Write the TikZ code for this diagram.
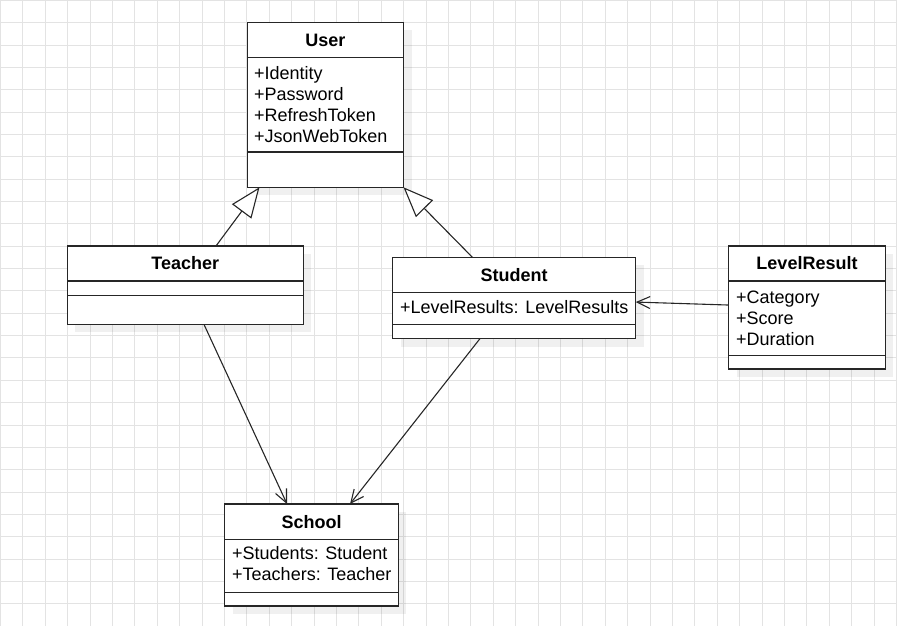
\documentclass[tikz,border=0pt]{standalone}
\usepackage{fontspec}
\setmainfont{Liberation Sans}
\usetikzlibrary{arrows.meta,calc}
\begin{document}
\begin{tikzpicture}[x=1pt,y=-1pt,
  gridline/.style={draw=black!11,line width=0.9pt},
  classbox/.style={draw=black!85, line width=1.3pt, fill=white, inner sep=0, outer sep=0, anchor=north west},
  shadowbox/.style={fill=black, fill opacity=0.06, draw=none},
  divider/.style={draw=black!85, line width=1.3pt},
  title/.style={font=\fontsize{18}{21}\selectfont\bfseries, anchor=base, inner sep=0},
  attr/.style={font=\fontsize{18}{21}\selectfont, anchor=base west, inner sep=0},
  gen/.style={draw=black!85, line width=1.1pt, -{Triangle[open,length=30pt,width=24pt,fill=white]}},
  assoc/.style={draw=black!85, line width=1.1pt, -{Straight Barb[length=13pt,width=12pt]}}]
\useasboundingbox (0,0) rectangle (897,626);
% grid
\foreach \i in {0,...,40} \draw[gridline] ({0.5+22.4*\i},0) -- ({0.5+22.4*\i},626);
\foreach \j in {0,...,28} \draw[gridline] (0,{0.3+22.35*\j}) -- (897,{0.3+22.35*\j});
% shadows
\fill[shadowbox] (255.3,30.3) rectangle ++(156.2,165);
\fill[shadowbox] (75.3,254) rectangle ++(236,78.3);
\fill[shadowbox] (400.7,265.3) rectangle ++(243,81.4);
\fill[shadowbox] (736.7,254) rectangle ++(156.6,123);
\fill[shadowbox] (232.7,512) rectangle ++(173.6,102);
% User
\node[classbox, minimum width=156.2pt, minimum height=165pt] (user) at (247.3,22.3) {};
\draw[divider] ($(user.north west)+(0,35.4)$) -- ($(user.north east)+(0,35.4)$);
\draw[divider] ($(user.north west)+(0,129.7)$) -- ($(user.north east)+(0,129.7)$);
\node[title] (usert) at (325.4,46.3) {User};
\node[attr] (usera1) at (254,79.3) {+Identity};
\node[attr] (usera2) at (254,100.3) {+Password};
\node[attr] (usera3) at (254,121.3) {+RefreshToken};
\node[attr] (usera4) at (254,142.3) {+JsonWebToken};
% Teacher
\node[classbox, minimum width=236pt, minimum height=78.3pt] (teacher) at (67.3,246) {};
\draw[divider] ($(teacher.north west)+(0,35)$) -- ($(teacher.north east)+(0,35)$);
\draw[divider] ($(teacher.north west)+(0,49.3)$) -- ($(teacher.north east)+(0,49.3)$);
\node[title] (teachert) at (185.3,269.8) {Teacher};
% Student
\node[classbox, minimum width=243pt, minimum height=81.4pt] (student) at (392.7,257.3) {};
\draw[divider] ($(student.north west)+(0,35.4)$) -- ($(student.north east)+(0,35.4)$);
\draw[divider] ($(student.north west)+(0,67)$) -- ($(student.north east)+(0,67)$);
\node[title] (studentt) at (514.2,281.3) {Student};
\node[attr] (studenta1) at (400,313.3) {+LevelResults: LevelResults};
% LevelResult
\node[classbox, minimum width=156.6pt, minimum height=123pt] (levelresult) at (728.7,246) {};
\draw[divider] ($(levelresult.north west)+(0,35)$) -- ($(levelresult.north east)+(0,35)$);
\draw[divider] ($(levelresult.north west)+(0,109.7)$) -- ($(levelresult.north east)+(0,109.7)$);
\node[title] (levelresultt) at (807,269.8) {LevelResult};
\node[attr] (levelresulta1) at (736,303.3) {+Category};
\node[attr] (levelresulta2) at (736,324.3) {+Score};
\node[attr] (levelresulta3) at (736,345.3) {+Duration};
% School
\node[classbox, minimum width=173.6pt, minimum height=102pt] (school) at (224.7,504) {};
\draw[divider] ($(school.north west)+(0,35.3)$) -- ($(school.north east)+(0,35.3)$);
\draw[divider] ($(school.north west)+(0,88.3)$) -- ($(school.north east)+(0,88.3)$);
\node[title] (schoolt) at (311.5,528) {School};
\node[attr] (schoola1) at (232,559.3) {+Students: Student};
\node[attr] (schoola2) at (232,580.3) {+Teachers: Teacher};
% connectors
\draw[gen] ($(teacher.north west)!0.63!(teacher.north east)$) -- ($(user.south west)!0.078!(user.south east)$);
\draw[gen] ($(student.north west)!0.328!(student.north east)$) -- (user.south east);
\draw[assoc] ($(teacher.south west)!0.579!(teacher.south east)$) -- ($(school.north west)!0.359!(school.north east)$);
\draw[assoc] ($(student.south west)!0.359!(student.south east)$) -- ($(school.north west)!0.722!(school.north east)$);
\draw[assoc] ($(levelresult.north west)!0.48!(levelresult.south west)$) -- ($(student.north east)!0.55!(student.south east)$);
\end{tikzpicture}
\end{document}
